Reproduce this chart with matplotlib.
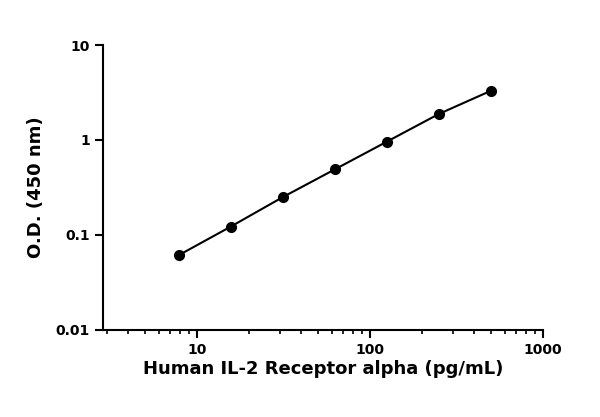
import matplotlib
matplotlib.use("Agg")
import matplotlib.pyplot as plt
from matplotlib.ticker import LogLocator, NullFormatter, FixedLocator, FixedFormatter

conc = [7.8, 15.6, 31.25, 62.5, 125, 250, 500]
od = [0.061, 0.122, 0.25, 0.49, 0.96, 1.88, 3.3]

fig = plt.figure(figsize=(6, 4.17), dpi=100)
ax = fig.add_axes([0.172, 0.209, 0.733, 0.683])
ax.plot(conc, od, color="black", lw=1.5, marker="o", ms=7)
ax.set_xscale("log")
ax.set_yscale("log")
ax.set_xlim(2.86, 1000)
ax.set_ylim(0.01, 10)

ax.xaxis.set_major_locator(FixedLocator([10, 100, 1000]))
ax.xaxis.set_major_formatter(FixedFormatter(["10", "100", "1000"]))
ax.xaxis.set_minor_locator(LogLocator(base=10, subs=range(2, 10)))
ax.xaxis.set_minor_formatter(NullFormatter())
ax.yaxis.set_major_locator(FixedLocator([0.01, 0.1, 1, 10]))
ax.yaxis.set_major_formatter(FixedFormatter(["0.01", "0.1", "1", "10"]))
ax.yaxis.set_minor_locator(FixedLocator([]))

for s in ["top", "right"]:
    ax.spines[s].set_visible(False)
for s in ["left", "bottom"]:
    ax.spines[s].set_linewidth(1.5)
ax.tick_params(which="major", length=6, width=1.5, labelsize=10)
ax.tick_params(which="minor", length=3, width=1.2)
for lab in ax.get_xticklabels() + ax.get_yticklabels():
    lab.set_fontweight("bold")

ax.set_xlabel("Human IL-2 Receptor alpha (pg/mL)", fontsize=13, fontweight="bold", labelpad=2)
ax.set_ylabel("O.D. (450 nm)", fontsize=13, fontweight="bold", labelpad=8)

fig.savefig("out.png", dpi=100)
